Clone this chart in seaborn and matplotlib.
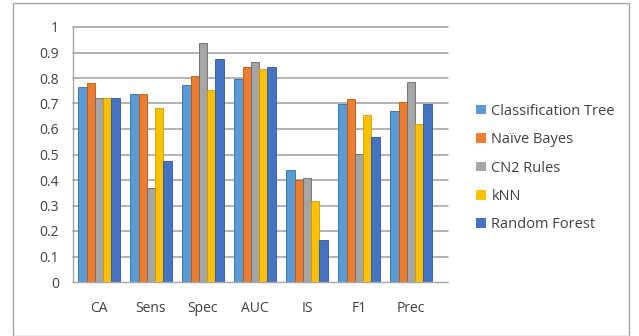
import matplotlib
matplotlib.use("Agg")
import matplotlib.pyplot as plt
import seaborn as sns
import pandas as pd
import numpy as np
from matplotlib.patches import Rectangle

metrics = ["CA", "Sens", "Spec", "AUC", "IS", "F1", "Prec"]
models = ["Classification Tree", "Naïve Bayes", "CN2 Rules", "kNN", "Random Forest"]

classification_tree = [0.763, 0.739, 0.774, 0.797, 0.441, 0.700, 0.670]
naive_bayes = [0.782, 0.736, 0.807, 0.843, 0.400, 0.718, 0.705]
cn2_rules = [0.722, 0.369, 0.936, 0.861, 0.407, 0.501, 0.786]
knn = [0.722, 0.684, 0.752, 0.835, 0.319, 0.654, 0.620]
random_forest = [0.722, 0.475, 0.873, 0.843, 0.165, 0.568, 0.697]

colors = ["#5B9BD5", "#ED7D31", "#A5A5A5", "#FFC000", "#4472C4"]

series = [classification_tree, naive_bayes, cn2_rules, knn, random_forest]
df = pd.DataFrame(
    [(m, metrics[i], v) for m, vals in zip(models, series) for i, v in enumerate(vals)],
    columns=["Model", "Metric", "Score"],
)

sns.set_style("white")
plt.rcParams["font.family"] = ["Open Sans", "DejaVu Sans"]

fig = plt.figure(figsize=(6.39, 3.36), dpi=100)
fig.patches.append(Rectangle((13 / 639, 0), 616 / 639, 333 / 336, transform=fig.transFigure,
                             fill=False, edgecolor="#A6A6A6", linewidth=1.0))

ax = fig.add_axes([73 / 639, 54 / 336, 364 / 639, 255 / 336])
ax.set_ylim(0, 1)
ax.set_yticks(np.arange(0, 1.01, 0.1))

# wall gridlines, running a little past the last category
for v in np.arange(0.1, 1.01, 0.1):
    ax.axhline(v, xmin=0.0, xmax=1.03, color="#A6A6A6", linewidth=1.2,
               clip_on=False, zorder=0)
ax.axhline(0, xmin=1.0, xmax=1.03, color="#A6A6A6", linewidth=1.0, clip_on=False, zorder=0)

sns.barplot(data=df, x="Metric", y="Score", hue="Model", order=metrics, hue_order=models,
            palette=colors, width=0.8, saturation=1, ax=ax, legend=True,
            edgecolor="none", zorder=2)

# darker rims on each column
for container, c in zip(ax.containers, colors):
    for bar in container:
        bar.set_edgecolor(sns.set_hls_values(c, l=0.4))
        bar.set_linewidth(0.6)

ax.set_xlim(-0.5, len(metrics) - 0.5)
ax.set_xlabel("")
ax.set_ylabel("")
ax.set_yticklabels(["0", "0.1", "0.2", "0.3", "0.4", "0.5", "0.6", "0.7", "0.8", "0.9", "1"])
ax.tick_params(axis="y", labelsize=10, colors="#404040", length=4, width=1, pad=6)
ax.tick_params(axis="y", color="#A6A6A6")
ax.tick_params(axis="x", labelsize=10, labelcolor="#404040", length=0, pad=14)
ax.set_xticks(np.arange(-0.5, len(metrics)), minor=True)
ax.tick_params(axis="x", which="minor", length=5, color="#A6A6A6", width=1)

for s in ["top", "right"]:
    ax.spines[s].set_visible(False)
for s in ["left", "bottom"]:
    ax.spines[s].set_color("#A6A6A6")
    ax.spines[s].set_linewidth(1.0)

handles, labels = ax.get_legend_handles_labels()
ax.legend(handles, labels, loc="center left", bbox_to_anchor=(463 / 639, 168 / 336),
          bbox_transform=fig.transFigure, frameon=False, fontsize=10.5,
          handlelength=0.65, handleheight=0.65, handletextpad=0.4, labelspacing=0.92,
          labelcolor="#404040")

fig.savefig("out.png", dpi=100)
